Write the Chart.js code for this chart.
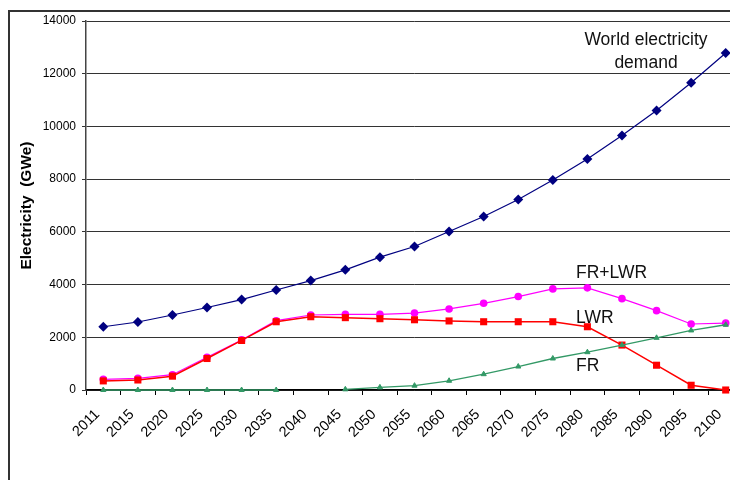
<!DOCTYPE html>
<html><head><meta charset="utf-8">
<script src="https://cdn.jsdelivr.net/npm/chart.js@4"></script>
<style>
html,body{margin:0;padding:0;background:#fff;overflow:hidden;width:730px;height:480px;}
#wrap{position:absolute;left:0;top:0;width:760px;height:480px;}
#frame{position:absolute;left:8px;top:10px;width:800px;height:600px;border:2px solid #333;box-sizing:border-box;pointer-events:none;}
</style></head><body>
<div id="frame"></div>
<div id="wrap"><canvas id="c" width="760" height="480"></canvas></div>
<script>
const years = ['2011','2015','2020','2025','2030','2035','2040','2045','2050','2055','2060','2065','2070','2075','2080','2085','2090','2095','2100'];
const demand = [2400, 2580, 2845, 3130, 3430, 3795, 4150, 4560, 5040, 5445, 6015, 6585, 7230, 7965, 8765, 9655, 10605, 11655, 12785];
const frLwr = [405, 440, 580, 1245, 1900, 2630, 2845, 2870, 2870, 2920, 3075, 3290, 3545, 3835, 3875, 3465, 3010, 2505, 2540];
const lwr = [345, 380, 525, 1195, 1880, 2590, 2780, 2745, 2705, 2665, 2620, 2590, 2590, 2590, 2400, 1705, 940, 180, 0];
const fr = [0, 0, 0, 0, 0, 0, null, 25, 100, 165, 350, 600, 890, 1195, 1435, 1705, 1980, 2260, 2475];
const yTicks = [0, 2000, 4000, 6000, 8000, 10000, 12000, 14000];
const notes = [
  {text: 'World electricity', x: 646, y: 45, align: 'center'},
  {text: 'demand', x: 646, y: 68, align: 'center'},
  {text: 'FR+LWR', x: 576, y: 278, align: 'left'},
  {text: 'LWR', x: 576, y: 323, align: 'left'},
  {text: 'FR', x: 576, y: 371, align: 'left'}
];

const FONT = "'Liberation Sans', Arial, sans-serif";
const notePlugin = {
  id: 'notes',
  afterDatasetsDraw(chart) {
    const ctx = chart.ctx;
    ctx.save();
    ctx.font = '17.5px ' + FONT;
    ctx.fillStyle = '#111';
    ctx.textBaseline = 'alphabetic';
    notes.forEach(n => { ctx.textAlign = n.align; ctx.fillText(n.text, n.x, n.y); });
    ctx.restore();
  }
};

new Chart(document.getElementById('c'), {
  type: 'line',
  data: {
    labels: years,
    datasets: [
      {label: 'FR', data: fr, borderColor: '#339966', backgroundColor: '#339966', borderWidth: 1.3,
       pointStyle: 'triangle', pointRadius: 3, pointBorderWidth: 1, spanGaps: false, order: 0, clip: false},
      {label: 'LWR', data: lwr, borderColor: '#FF0000', backgroundColor: '#FF0000', borderWidth: 1.5,
       pointStyle: 'rect', pointRadius: 5, pointBorderWidth: 0, order: 1, clip: false},
      {label: 'FR+LWR', data: frLwr, borderColor: '#FF00FF', backgroundColor: '#FF00FF', borderWidth: 1.2,
       pointStyle: 'circle', pointRadius: 3.8, pointBorderWidth: 0, order: 2, clip: false},
      {label: 'World electricity demand', data: demand, borderColor: '#000080', backgroundColor: '#000080', borderWidth: 1.2,
       pointStyle: 'rectRot', pointRadius: 5, pointBorderWidth: 0, order: 3, clip: false}
    ]
  },
  options: {
    responsive: false,
    animation: false,
    layout: {padding: {left: 0, top: 21, right: 17, bottom: 0}},
    plugins: {legend: {display: false}, tooltip: {enabled: false}},
    elements: {line: {tension: 0}},
    scales: {
      x: {
        offset: true,
        grid: {offset: true, drawOnChartArea: false, drawTicks: true, tickLength: 5, color: '#000'},
        border: {color: '#000', width: 1.5},
        ticks: {color: '#000', font: {family: FONT, size: 14.5}, maxRotation: 45, minRotation: 45,
                autoSkip: false, padding: 11, labelOffset: -6},
        afterFit: s => { s.height = 90; }
      },
      y: {
        min: 0, max: 14000,
        afterBuildTicks: s => { s.ticks = yTicks.map(v => ({value: v})); },
        grid: {color: '#333', lineWidth: 1, tickLength: 4, drawTicks: true},
        border: {color: '#444', width: 1.5},
        ticks: {color: '#000', font: {family: FONT, size: 12}, padding: 6, callback: v => String(v)},
        title: {display: true, text: 'Electricity  (GWe)', color: '#000',
                font: {family: FONT, size: 15.5, weight: 'bold'}, padding: {top: 17.5, bottom: 0}},
        afterFit: s => { s.width = 86; }
      }
    }
  },
  plugins: [notePlugin]
});
</script>
</body></html>
